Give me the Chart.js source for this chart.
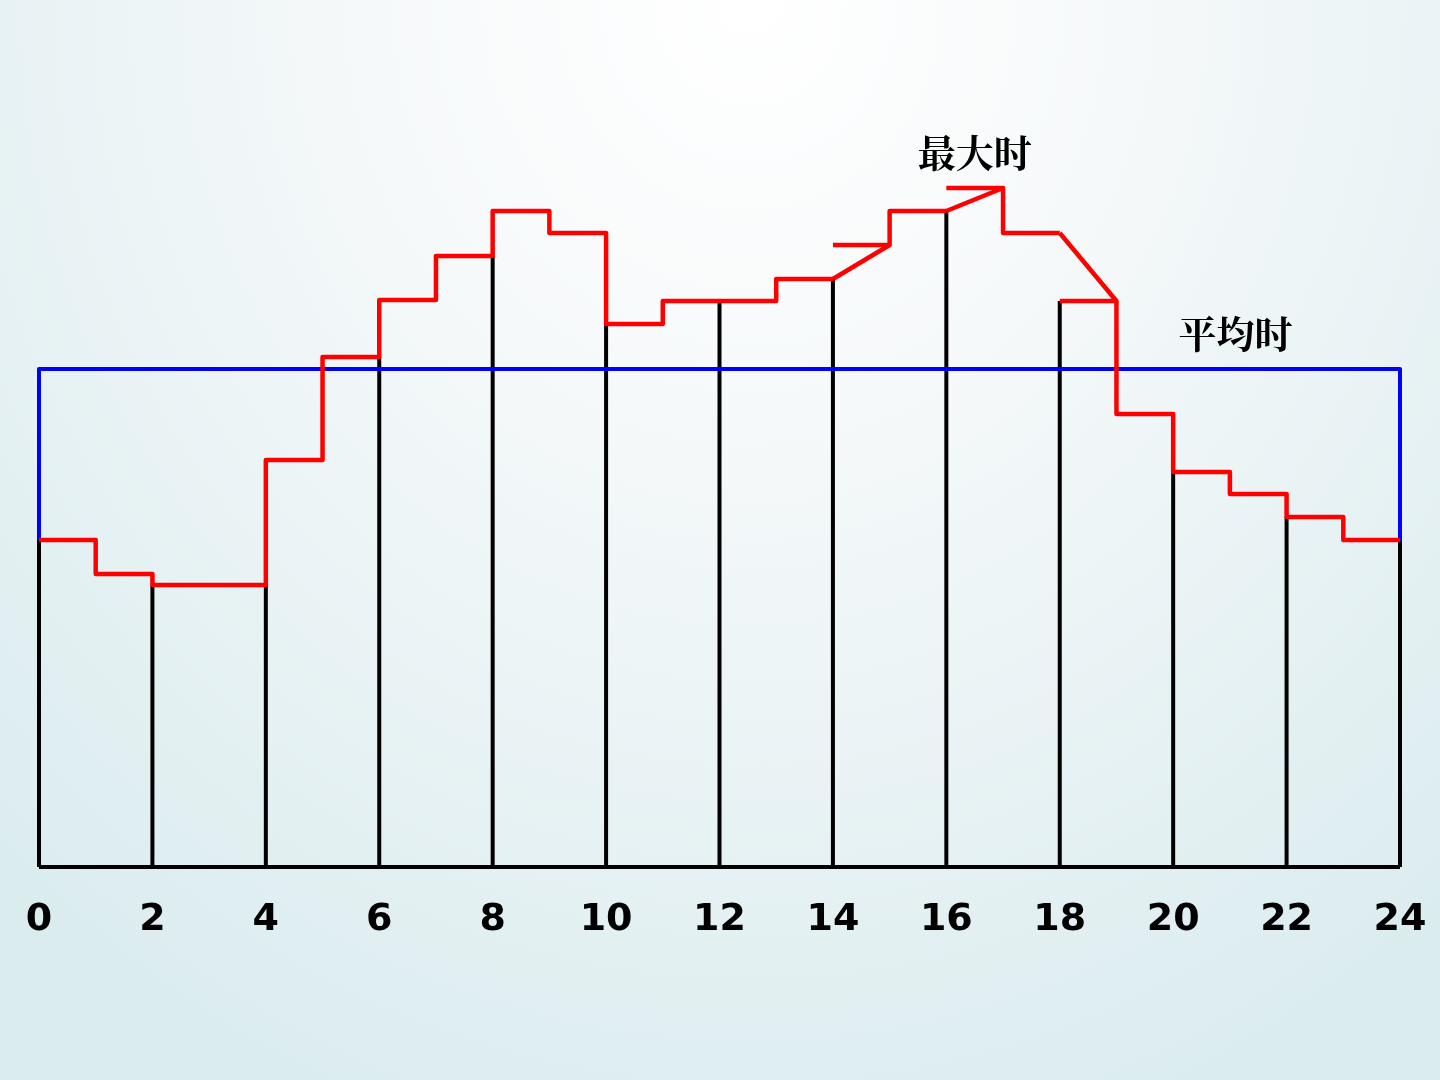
<!DOCTYPE html>
<html>
<head>
<meta charset="utf-8">
<title>日负荷曲线</title>
<script src="https://cdn.jsdelivr.net/npm/chart.js@4/dist/chart.umd.min.js"></script>
<style>
  html, body {
    margin: 0;
    padding: 0;
  }
  body {
    width: 1440px;
    height: 1080px;
    overflow: hidden;
    background: radial-gradient(ellipse 75% 110% at 52% 0%, #ffffff 0%, #f6f9fa 35%, #e5f1f3 75%, #dbecef 100%);
  }
  #wrap {
    position: relative;
    width: 1440px;
    height: 1080px;
  }
</style>
</head>
<body>
<div id="wrap"><canvas id="loadChart"></canvas></div>
<script>
// Hourly load level, one value per hour 0..23
const hourlyLoad = [32.7, 29.3, 28.2, 28.2, 40.7, 51.0, 56.7, 61.1, 65.6, 63.4, 54.3, 56.6,
                    56.6, 58.8, 62.2, 65.6, 67.9, 63.4, 56.6, 45.3, 39.5, 37.3, 35.0, 32.7];

// Hours where the curve ramps from the previous level instead of stepping
const rampHours = [14, 16, 18];

// Vertical black bars at the even hours
const barHours = [0, 2, 4, 6, 8, 10, 12, 14, 16, 18, 20, 22, 24];
const barHeights = [32.7, 28.2, 28.2, 51.0, 61.1, 54.3, 56.6, 58.8, 65.6, 56.6, 39.5, 35.0, 32.7];

// Daily average level
const averageLoad = 49.8;

// Axis range and tick labels
const hourMin = 0;
const hourMax = 24;
const hourStep = 2;

// Text notes placed in data units
const notes = [
  { text: "最大时", hour: 16.5, value: 71.4 },
  { text: "平均时", hour: 21.1, value: 53.3 }
];

const GAP = (x) => ({ x: x, y: null });

/**
 * Stepped curve: horizontal run per hour, vertical join between hours,
 * broken where a ramp segment takes over.
 */
function buildStepPath() {
  const pts = [];
  for (let h = 0; h < hourlyLoad.length; h++) {
    if (rampHours.includes(h)) pts.push(GAP(h));
    pts.push({ x: h, y: hourlyLoad[h] });
    pts.push({ x: h + 1, y: hourlyLoad[h] });
  }
  return pts;
}

/**
 * Diagonal ramps from the previous hour's level to the ramp hour's level.
 */
function buildRampPath() {
  const pts = [];
  rampHours.forEach(h => {
    pts.push({ x: h, y: hourlyLoad[h - 1] });
    pts.push({ x: h + 1, y: hourlyLoad[h] });
    pts.push(GAP(h + 1));
  });
  return pts;
}

function buildBars() {
  const pts = [];
  barHours.forEach((h, i) => {
    pts.push({ x: h, y: 0 });
    pts.push({ x: h, y: barHeights[i] });
    pts.push(GAP(h));
  });
  // baseline along the bottom
  pts.push({ x: hourMin, y: 0 });
  pts.push({ x: hourMax, y: 0 });
  return pts;
}

function buildAverageFrame() {
  return [
    { x: hourMin, y: hourlyLoad[0] },
    { x: hourMin, y: averageLoad },
    { x: hourMax, y: averageLoad },
    { x: hourMax, y: hourlyLoad[hourlyLoad.length - 1] }
  ];
}

// Draws the two text notes through the chart's own scales
const notesPlugin = {
  id: "notes",
  afterDatasetsDraw(chart) {
    const { ctx, scales } = chart;
    ctx.save();
    ctx.fillStyle = "#000000";
    ctx.font = "bold 38px 'Noto Serif CJK SC', 'Noto Sans CJK SC', serif";
    ctx.textAlign = "center";
    ctx.textBaseline = "middle";
    notes.forEach(n => {
      ctx.fillText(n.text, scales.x.getPixelForValue(n.hour), scales.y.getPixelForValue(n.value));
    });
    ctx.restore();
  }
};

const lineBase = {
  pointRadius: 0,
  fill: false,
  tension: 0,
  clip: false,
  spanGaps: false,
  borderJoinStyle: "round"
};

const ctx = document.getElementById("loadChart").getContext("2d");

new Chart(ctx, {
  type: "line",
  data: {
    datasets: [
      { ...lineBase, label: "step", data: buildStepPath(), borderColor: "#ff0000", borderWidth: 4.5 },
      { ...lineBase, label: "ramp", data: buildRampPath(), borderColor: "#ff0000", borderWidth: 4.5 },
      { ...lineBase, label: "average", data: buildAverageFrame(), borderColor: "#0000ff", borderWidth: 4 },
      { ...lineBase, label: "bars", data: buildBars(), borderColor: "#000000", borderWidth: 4 }
    ]
  },
  options: {
    responsive: true,
    maintainAspectRatio: false,
    animation: false,
    events: [],
    layout: {
      padding: { left: 39, right: 40, top: 67, bottom: 0 }
    },
    plugins: {
      legend: { display: false },
      tooltip: { enabled: false }
    },
    scales: {
      x: {
        type: "linear",
        min: hourMin,
        max: hourMax,
        border: { display: false },
        grid: { display: false, drawTicks: false },
        ticks: {
          stepSize: hourStep,
          autoSkip: false,
          maxRotation: 0,
          padding: 30,
          color: "#000000",
          font: { family: "'DejaVu Sans', Verdana, sans-serif", size: 38, weight: "bold" }
        },
        afterFit(scale) {
          scale.height = 213; // keep the plot bottom at the picture's baseline
          scale.paddingLeft = 0; // edge labels fit inside the page margins
          scale.paddingRight = 0;
        }
      },
      y: {
        display: false,
        min: 0,
        max: 80
      }
    }
  },
  plugins: [notesPlugin]
});
</script>
</body>
</html>
